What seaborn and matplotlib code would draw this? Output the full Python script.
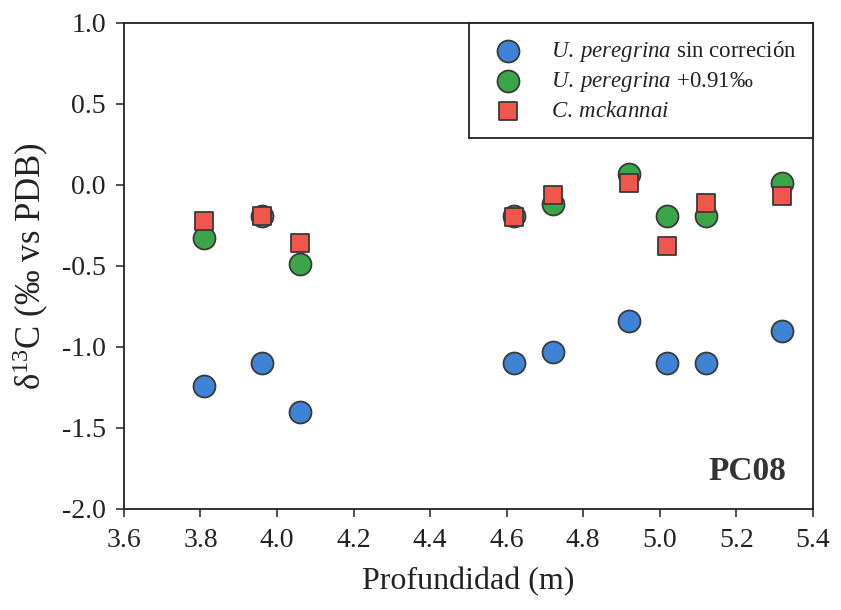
import matplotlib
matplotlib.use("Agg")
import matplotlib.pyplot as plt
import seaborn as sns
import pandas as pd

# Sample depths (m) and carbon isotope values (per mil vs PDB)
depth = [3.81, 3.96, 4.06, 4.62, 4.72, 4.92, 5.02, 5.12, 5.32]
u_peregrina_raw = [-1.24, -1.10, -1.40, -1.10, -1.03, -0.84, -1.10, -1.10, -0.90]
u_peregrina_corr = [-0.33, -0.19, -0.49, -0.19, -0.12, 0.07, -0.19, -0.19, 0.01]
c_mckannai = [-0.22, -0.19, -0.36, -0.20, -0.06, 0.01, -0.38, -0.11, -0.07]

series_labels = [
    r"$\mathit{U.\:peregrina}$ sin correción",
    r"$\mathit{U.\:peregrina}$ +0.91‰",
    r"$\mathit{C.\:mckannai}$",
]
x_ticks = [3.6, 3.8, 4.0, 4.2, 4.4, 4.6, 4.8, 5.0, 5.2, 5.4]
y_ticks = [1.0, 0.5, 0.0, -0.5, -1.0, -1.5, -2.0]

sns.set_theme(style="white")
plt.rcParams["font.family"] = ["Liberation Serif", "DejaVu Serif"]
plt.rcParams["mathtext.fontset"] = "custom"
plt.rcParams["mathtext.rm"] = "Liberation Serif"
plt.rcParams["mathtext.it"] = "Liberation Serif:italic"
plt.rcParams["mathtext.bf"] = "Liberation Serif:bold"
plt.rcParams["axes.unicode_minus"] = False

ink = "#222222"
edge = "#3a3a3a"

df = pd.DataFrame({
    "depth": depth,
    "raw": u_peregrina_raw,
    "corr": u_peregrina_corr,
    "cmck": c_mckannai,
})

fig = plt.figure(figsize=(8.41, 6.10), dpi=100)
ax = fig.add_axes([0.1474, 0.1656, 0.819, 0.797])

sns.scatterplot(data=df, x="depth", y="raw", ax=ax, marker="o", s=250,
                color="#3f83d6", edgecolor=edge, linewidth=1.3,
                label=series_labels[0], zorder=3)
sns.scatterplot(data=df, x="depth", y="corr", ax=ax, marker="o", s=250,
                color="#3aa648", edgecolor=edge, linewidth=1.3,
                label=series_labels[1], zorder=4)
sns.scatterplot(data=df, x="depth", y="cmck", ax=ax, marker="s", s=165,
                color="#f0564a", edgecolor=edge, linewidth=1.3,
                label=series_labels[2], zorder=5)

ax.set_xlim(3.6, 5.4)
ax.set_ylim(-2.0, 1.0)
ax.set_xticks(x_ticks)
ax.set_xticklabels([f"{v:.1f}" for v in x_ticks])
ax.set_yticks(y_ticks)
ax.set_yticklabels([f"{v:.1f}" for v in y_ticks])

for side in ["left", "bottom", "top", "right"]:
    ax.spines[side].set_visible(True)
    ax.spines[side].set_color(ink)
    ax.spines[side].set_linewidth(1.3)

ax.tick_params(axis="both", which="major", direction="out", length=6,
               width=1.1, color=ink, labelsize=20, labelcolor=ink,
               bottom=True, left=True, top=False, right=False)
ax.tick_params(axis="x", pad=8)
ax.tick_params(axis="y", pad=7)

ax.set_xlabel("Profundidad (m)", fontsize=23, color=ink, labelpad=10)
ax.set_ylabel("δ$^{13}$C (‰ vs PDB)", fontsize=25, color=ink, labelpad=8)

ax.text(0.962, 0.045, "PC08", transform=ax.transAxes, ha="right",
        va="bottom", fontsize=24, fontweight="bold", color="#333333")

leg = ax.legend(loc="upper right", frameon=True, fancybox=False,
                borderaxespad=0.0, fontsize=16.5, labelspacing=0.28,
                handletextpad=0.9, borderpad=0.7, markerscale=1.0,
                handlelength=2.0)
leg.get_frame().set_edgecolor(ink)
leg.get_frame().set_linewidth(1.3)
leg.get_frame().set_facecolor("white")
leg.get_frame().set_alpha(1.0)
for t in leg.get_texts():
    t.set_color(ink)

fig.savefig("out.png", dpi=100, facecolor="white")
